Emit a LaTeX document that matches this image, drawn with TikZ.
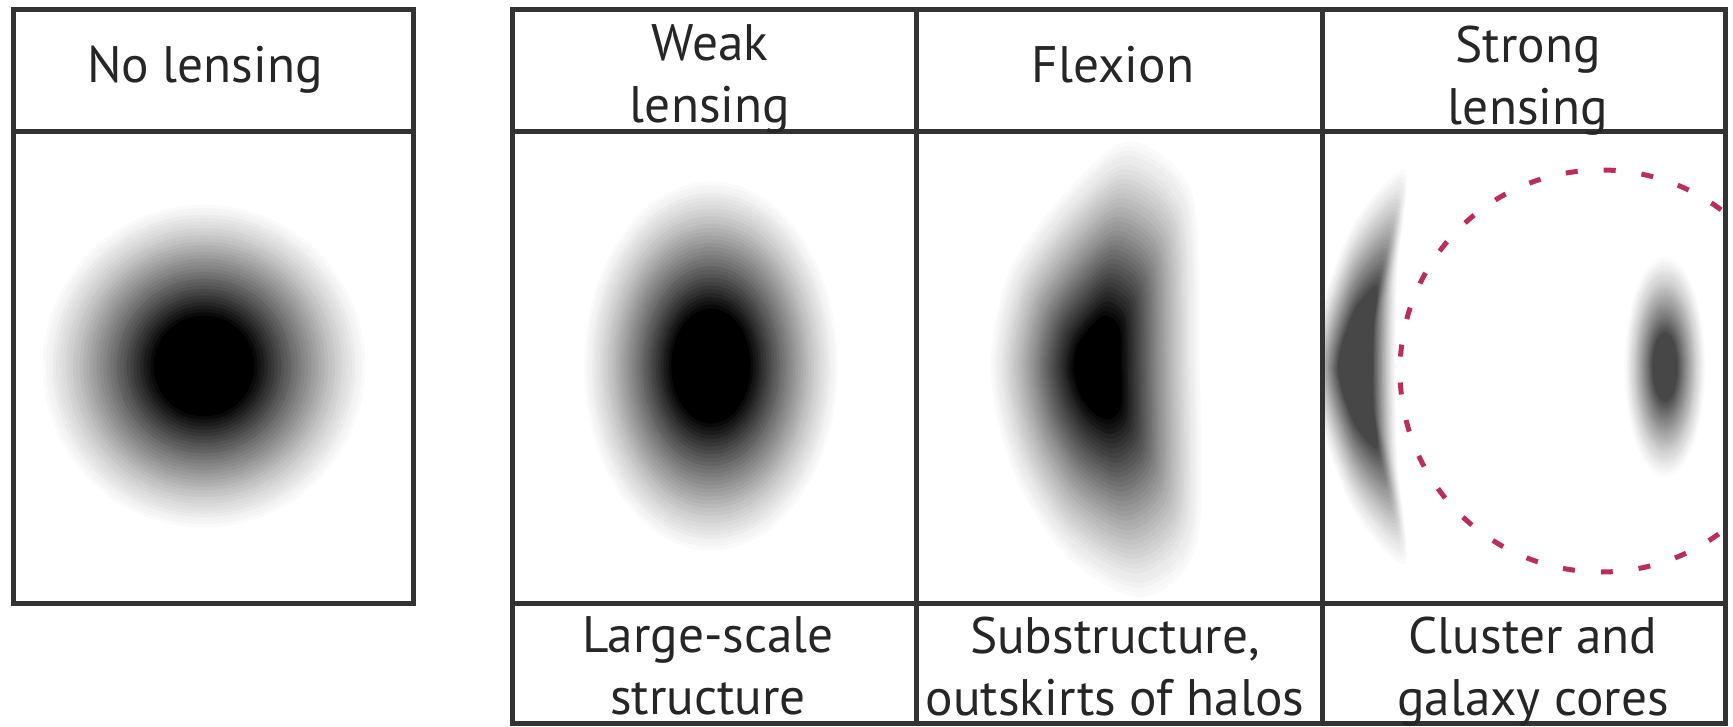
\documentclass[tikz,border=0pt]{standalone}
\usepackage{fontspec}
\setmainfont{PT Sans}
\usetikzlibrary{positioning}

\definecolor{ringred}{RGB}{190,45,90}

\tikzset{
  gridline/.style={draw=black!80, line width=0.5mm},
  celltext/.style={font=\fontsize{14.6}{17.6}\selectfont, text=black!85,
    align=center, anchor=north, inner sep=0pt},
  ringline/.style={draw=ringred, line width=0.5mm, dash pattern=on 1.2mm off 2.6mm}
}

% fuzzy image: centre, peak darkness, flat core fraction, outline path
\newcommand{\fuzzy}[4]{%
  \foreach \i in {0,...,47}{
    \pgfmathsetmacro{\s}{1-\i*0.02}
    \pgfmathsetmacro{\t}{min(1,(1-\s)/(1-#3))}
    \pgfmathtruncatemacro{\dk}{100*#2*\t^1.3}
    \fill[black!\dk, shift={#1}, scale=\s] #4;
  }}

\begin{document}
\begin{tikzpicture}[x=0.1mm, y=-0.1mm]
  \useasboundingbox (0,0) rectangle (1733,727);

  % galaxy images
  \fuzzy{(204,366)}{1}{0.3}{(0,0) circle[radius=168]}
  \fuzzy{(711,366)}{1}{0.3}{(0,0) ellipse[x radius=132, y radius=192]}
  \fuzzy{(1098,367)}{1}{0.22}{plot[smooth cycle] coordinates
    {(35,-235) (98,-180) (106,0) (103,185) (45,240) (-35,195)
     (-90,105) (-112,0) (-90,-105) (-22,-195)}}
  \begin{scope}
    \clip (1322,132) rectangle (1725,603);
    \fuzzy{(1357,367)}{0.72}{0.4}{plot[smooth cycle] coordinates
      {(50,-205) (42,-100) (40,0) (42,100) (50,205) (-8,140) (-48,0) (-8,-140)}}
    \fuzzy{(1665,367)}{0.72}{0.3}{(0,0) ellipse[x radius=42, y radius=115]}
    \draw[ringline] (1601,371) circle[radius=201];
  \end{scope}

  % table frames
  \draw[gridline] (13,10) rectangle (413,603);
  \draw[gridline] (13,132) -- (413,132);
  \draw[gridline] (512,10) rectangle (1725,723);
  \draw[gridline] (512,132) -- (1725,132);
  \draw[gridline] (512,603) -- (1725,603);
  \draw[gridline] (916,10) -- (916,723);
  \draw[gridline] (1322,10) -- (1322,723);

  % headings
  \node[celltext] (none) at (205,45) {No lensing};
  \node[celltext] (weak) at (710,24) {Weak\\lensing};
  \node[celltext] (flex) at (1113,45) {Flexion};
  \node[celltext] (strong) at (1528,25) {Strong\\lensing};

  % scales probed
  \node[celltext] (weakuse) at (708,616) {Large-scale\\structure};
  \node[celltext] (flexuse) at (1115,616) {Substructure,\\outskirts of halos};
  \node[celltext] (stronguse) at (1533,616) {Cluster and\\galaxy cores};
\end{tikzpicture}
\end{document}
